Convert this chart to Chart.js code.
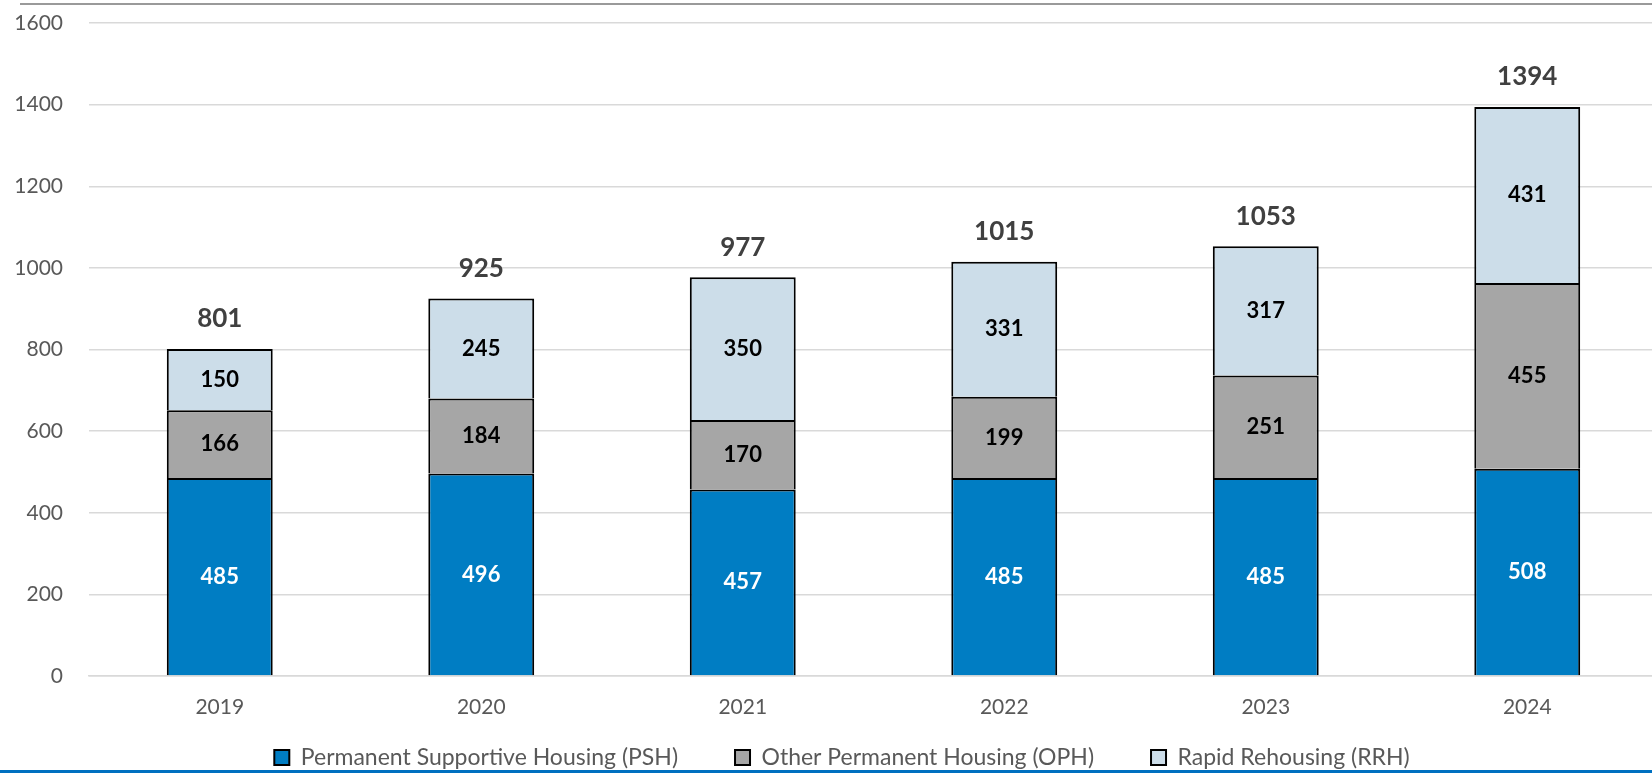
<!DOCTYPE html>
<html>
<head>
<meta charset="utf-8">
<script src="https://cdn.jsdelivr.net/npm/chart.js@4"></script>
<style>
  html, body { margin: 0; padding: 0; background: #fff; overflow: hidden; }
  #wrap { position: relative; width: 1684px; height: 779px; }
  #topRule { position: absolute; left: 20px; top: 3px; width: 1664px; height: 2px; background: #9a9a9a; }
  #bottomRule { position: absolute; left: 0; top: 770px; width: 1684px; height: 3px; background: #0070c0; }
</style>
</head>
<body>
<div id="wrap">
  <canvas id="housingChart" width="1684" height="779"></canvas>
  <div id="topRule"></div>
  <div id="bottomRule"></div>
</div>
<script>
// Chart data
const years = ['2019', '2020', '2021', '2022', '2023', '2024'];
const pshValues = [485, 496, 457, 485, 485, 508];
const ophValues = [166, 184, 170, 199, 251, 455];
const rrhValues = [150, 245, 350, 331, 317, 431];
const yTicksMax = 1600;
const yTicksStep = 200;

const FONT = 'Lato, "Open Sans", sans-serif';

// Draws the value in the middle of each segment and the stack total above
const valueLabels = {
  id: 'valueLabels',
  afterDatasetsDraw(chart) {
    const ctx = chart.ctx;
    ctx.save();
    ctx.textAlign = 'center';
    ctx.textBaseline = 'middle';
    ctx.font = 'bold 22px ' + FONT;
    chart.data.datasets.forEach((ds, i) => {
      const meta = chart.getDatasetMeta(i);
      ctx.fillStyle = i === 0 ? '#ffffff' : '#000000';
      meta.data.forEach((bar, j) => {
        ctx.fillText(String(ds.data[j]), bar.x, (bar.y + bar.base) / 2);
      });
    });

    // totals
    const yScale = chart.scales.y;
    const meta0 = chart.getDatasetMeta(0);
    ctx.font = 'bold 26px ' + FONT;
    ctx.fillStyle = '#404040';
    years.forEach((year, j) => {
      const total = pshValues[j] + ophValues[j] + rrhValues[j];
      ctx.fillText(String(total), meta0.data[j].x, yScale.getPixelForValue(total) - 30);
    });
    ctx.restore();
  }
};

const ctx = document.getElementById('housingChart');

new Chart(ctx, {
  type: 'bar',
  data: {
    labels: years,
    datasets: [
      {
        label: 'Permanent Supportive Housing (PSH)',
        data: pshValues,
        backgroundColor: '#007dc3',
        borderColor: '#000000',
        borderWidth: 2,
        borderSkipped: 'bottom'
      },
      {
        label: 'Other Permanent Housing (OPH)',
        data: ophValues,
        backgroundColor: '#a6a6a6',
        borderColor: '#000000',
        borderWidth: 2,
        borderSkipped: 'bottom'
      },
      {
        label: 'Rapid Rehousing (RRH)',
        data: rrhValues,
        backgroundColor: '#ccdde9',
        borderColor: '#000000',
        borderWidth: 2,
        borderSkipped: 'bottom'
      }
    ]
  },
  options: {
    responsive: false,
    animation: false,
    barPercentage: 0.405,
    categoryPercentage: 1,
    layout: {
      padding: { top: 23, right: 0, left: 0, bottom: 0 }
    },
    plugins: {
      tooltip: { enabled: false },
      legend: {
        position: 'bottom',
        labels: {
          boxWidth: 15,
          boxHeight: 15,
          padding: 57,
          color: '#595959',
          font: { family: FONT, size: 23 }
        }
      }
    },
    scales: {
      x: {
        stacked: true,
        grid: { display: false, drawTicks: false },
        border: { display: true, color: '#d9d9d9', width: 1.5 },
        ticks: {
          padding: 19,
          color: '#595959',
          font: { family: FONT, size: 21 }
        },
        afterFit(scale) {
          scale.height = 13;
          // labels hang below the short axis box, don't clip them
          scale._computeLabelArea = () => undefined;
        }
      },
      y: {
        stacked: true,
        min: 0,
        max: yTicksMax,
        grid: { color: '#d9d9d9', lineWidth: 1.5, drawTicks: false },
        border: { display: false },
        ticks: {
          stepSize: yTicksStep,
          padding: 26,
          color: '#595959',
          font: { family: FONT, size: 21 },
          callback: value => String(value)
        },
        afterFit(scale) {
          scale.width = 89;
          scale.paddingTop = 0;
          scale.paddingBottom = 0;
        }
      },
      // empty spacer on the right so the legend sits where the original does
      spacer: {
        type: 'linear',
        position: 'right',
        grid: { display: false, drawTicks: false },
        border: { display: false },
        ticks: { display: false },
        afterFit(scale) {
          scale.width = 26;
          scale.paddingTop = 0;
          scale.paddingBottom = 0;
        }
      }
    }
  },
  plugins: [valueLabels]
});
</script>
</body>
</html>
